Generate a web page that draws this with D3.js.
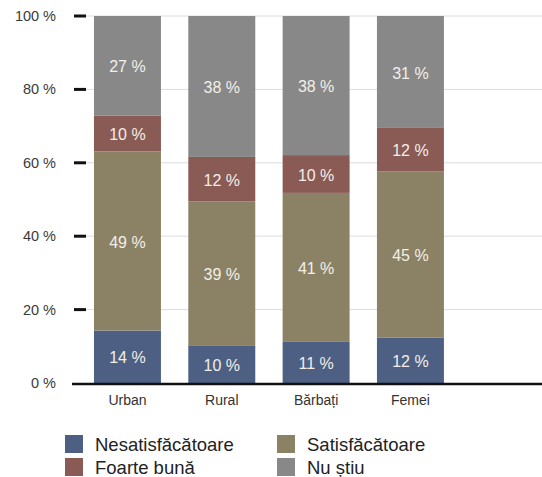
<!DOCTYPE html>
<html>
<head>
<meta charset="utf-8">
<script src="https://cdn.jsdelivr.net/npm/d3@7"></script>
<style>
  body { margin: 0; background: #fff; }
  text { font-family: "Liberation Sans", Arial, sans-serif; }
</style>
</head>
<body>
<div id="chart-container"></div>
<script>
const width = 542;
const height = 477;

// data (labels are the rounded values)
const categories = ["Urban", "Rural", "Bărbați", "Femei"];
const seriesNames = ["Nesatisfăcătoare", "Satisfăcătoare", "Foarte bună", "Nu știu"];
const nesatisfacatoare = [14.3, 10.1, 11.2, 12.4];
const satisfacatoare = [48.8, 39.4, 40.6, 45.3];
const foarteBuna = [9.8, 12.1, 10.3, 11.8];
const nuStiu = [27.1, 38.4, 37.9, 30.5];
const yTicks = [0, 20, 40, 60, 80, 100];

const colors = ["#4d6083", "#8b8266", "#8a5a55", "#888888"];

const rows = categories.map((c, i) => ({
    cat: c,
    s0: nesatisfacatoare[i],
    s1: satisfacatoare[i],
    s2: foarteBuna[i],
    s3: nuStiu[i]
}));
const keys = ["s0", "s1", "s2", "s3"];
const stacked = d3.stack().keys(keys)(rows);

const svg = d3.select("#chart-container")
    .append("svg")
    .attr("width", width)
    .attr("height", height)
    .style("background-color", "#ffffff");

const x = d3.scaleBand()
    .domain(categories)
    .range([80.3, 457.6])
    .paddingInner(0.29)
    .paddingOuter(0.145);

const y = d3.scaleLinear()
    .domain([0, 100])
    .range([383, 16]);

// gridlines
svg.append("g")
    .selectAll("line")
    .data(yTicks.filter(d => d > 0))
    .join("line")
    .attr("x1", 86)
    .attr("x2", width)
    .attr("y1", d => y(d))
    .attr("y2", d => y(d))
    .attr("stroke", "#dcdcdc")
    .attr("stroke-width", 1);

// tick dashes + labels
const yAxis = svg.append("g");
yAxis.selectAll("line")
    .data(yTicks.filter(d => d > 0))
    .join("line")
    .attr("x1", 74)
    .attr("x2", 86)
    .attr("y1", d => y(d))
    .attr("y2", d => y(d))
    .attr("stroke", "#111")
    .attr("stroke-width", 3);
yAxis.selectAll("text")
    .data(yTicks)
    .join("text")
    .attr("x", 56)
    .attr("y", d => y(d))
    .attr("dy", "0.35em")
    .attr("text-anchor", "end")
    .attr("font-size", "14.5px")
    .attr("fill", "#3a3a3a")
    .text(d => d + " %");

// bars
const layer = svg.append("g")
    .selectAll("g")
    .data(stacked)
    .join("g")
    .attr("fill", (d, i) => colors[i]);

layer.selectAll("rect")
    .data(d => d)
    .join("rect")
    .attr("x", d => x(d.data.cat))
    .attr("width", x.bandwidth())
    .attr("y", d => y(d[1]))
    .attr("height", d => y(d[0]) - y(d[1]));

layer.selectAll("text")
    .data(d => d)
    .join("text")
    .attr("x", d => x(d.data.cat) + x.bandwidth() / 2)
    .attr("y", d => (y(d[0]) + y(d[1])) / 2 + 1)
    .attr("dy", "0.35em")
    .attr("text-anchor", "middle")
    .attr("font-size", "16px")
    .attr("fill", "#f2efe8")
    .text(d => Math.round(d[1] - d[0]) + " %");

// baseline
svg.append("line")
    .attr("x1", 72)
    .attr("x2", width)
    .attr("y1", y(0) + 1)
    .attr("y2", y(0) + 1)
    .attr("stroke", "#111")
    .attr("stroke-width", 2.5);

// category labels
svg.append("g")
    .selectAll("text")
    .data(categories)
    .join("text")
    .attr("x", d => x(d) + x.bandwidth() / 2)
    .attr("y", 405)
    .attr("text-anchor", "middle")
    .attr("font-size", "14px")
    .attr("fill", "#333")
    .text(d => d);

// legend
const legendPos = [[65, 435], [277, 435], [65, 458], [277, 458]];
const legend = svg.append("g")
    .selectAll("g")
    .data(seriesNames)
    .join("g")
    .attr("transform", (d, i) => `translate(${legendPos[i][0]}, ${legendPos[i][1]})`);
legend.append("rect")
    .attr("width", 18)
    .attr("height", 18)
    .attr("fill", (d, i) => colors[i]);
legend.append("text")
    .attr("x", 30)
    .attr("y", 16)
    .attr("font-size", "18.5px")
    .attr("fill", "#222")
    .text(d => d);
</script>
</body>
</html>
